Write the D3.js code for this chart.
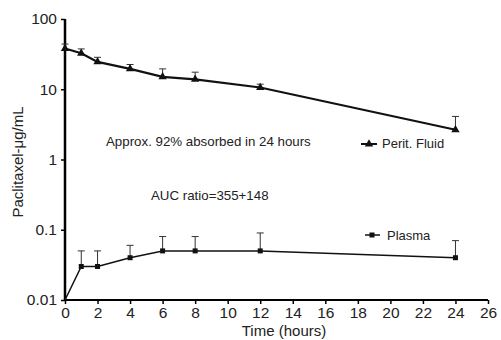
<!DOCTYPE html>
<html>
<head>
<meta charset="utf-8">
<script src="https://cdn.jsdelivr.net/npm/d3@7"></script>
<style>
  body { margin: 0; background: #fff; }
  text { font-family: "Liberation Sans", Arial, sans-serif; fill: #222; }
</style>
</head>
<body>
<svg id="chart" width="501" height="340"></svg>
<script>
// data
const hours = [0, 1, 2, 4, 6, 8, 12, 24];
const peritMean = [38, 32.5, 24.5, 19.5, 15, 13.8, 10.6, 2.65];
const peritUpper = [44, 37.5, 28.5, 22.5, 19.5, 17.5, 11.8, 4.1];
const plasmaHours = [0, 1, 2, 4, 6, 8, 12, 24];
const plasmaMean = [0.01, 0.03, 0.03, 0.04, 0.05, 0.05, 0.05, 0.04];
const plasmaUpper = [null, 0.05, 0.05, 0.06, 0.08, 0.08, 0.09, 0.07];
const xTicks = d3.range(0, 27, 2);
const yTicks = [0.01, 0.1, 1, 10, 100];

const svg = d3.select("#chart");
const x = d3.scaleLinear().domain([0, 26]).range([65, 488]);
const y = d3.scaleLog().domain([0.01, 100]).range([300, 19]);

// axes
svg.append("g")
    .attr("transform", "translate(0,300)")
    .call(d3.axisBottom(x).tickValues(xTicks).tickSize(4).tickPadding(3).tickFormat(d3.format("d")))
    .call(g => g.select(".domain").attr("stroke-width", 2).attr("d", "M65,0H488"))
    .call(g => g.selectAll(".tick line").attr("stroke-width", 1.5))
    .call(g => g.selectAll("text").attr("font-size", 15.5).attr("fill", "#222"));

svg.append("g")
    .attr("transform", "translate(65,0)")
    .call(d3.axisLeft(y).tickValues(yTicks).tickSize(4).tickPadding(4)
        .tickFormat(d => d >= 1 ? d3.format("d")(d) : String(d)))
    .call(g => g.select(".domain").attr("stroke-width", 2.5).attr("d", "M0,19V300"))
    .call(g => g.selectAll(".tick line").attr("stroke-width", 1.5))
    .call(g => g.selectAll("text").attr("font-size", 15.5).attr("fill", "#222"));

svg.append("text")
    .attr("x", 284).attr("y", 336)
    .attr("text-anchor", "middle")
    .attr("font-size", 15)
    .text("Time (hours)");

svg.append("text")
    .attr("transform", "translate(23,162) rotate(-90)")
    .attr("text-anchor", "middle")
    .attr("font-size", 15)
    .text("Paclitaxel-μg/mL");

// error bars (upper only, with cap)
function errorBars(xs, mean, upper) {
    const g = svg.append("g").attr("stroke", "#333").attr("stroke-width", 1);
    xs.forEach((t, i) => {
        if (upper[i] == null) return;
        g.append("line")
            .attr("x1", x(t)).attr("x2", x(t))
            .attr("y1", y(mean[i])).attr("y2", y(upper[i]));
        g.append("line")
            .attr("x1", x(t) - 3.5).attr("x2", x(t) + 3.5)
            .attr("y1", y(upper[i])).attr("y2", y(upper[i]));
    });
}
errorBars(hours, peritMean, peritUpper);
errorBars(plasmaHours, plasmaMean, plasmaUpper);

const line = d3.line().x(d => x(d[0])).y(d => y(d[1]));

svg.append("path")
    .datum(hours.map((t, i) => [t, peritMean[i]]))
    .attr("fill", "none").attr("stroke", "#111").attr("stroke-width", 2.2)
    .attr("d", line);

svg.append("path")
    .datum(plasmaHours.map((t, i) => [t, plasmaMean[i]]))
    .attr("fill", "none").attr("stroke", "#111").attr("stroke-width", 1.5)
    .attr("d", line);

const tri = d3.symbol().type(d3.symbolTriangle).size(30);
svg.append("g").selectAll("path")
    .data(hours.map((t, i) => [t, peritMean[i]]))
    .join("path")
    .attr("transform", d => `translate(${x(d[0])},${y(d[1])})`)
    .attr("d", tri).attr("fill", "#111");

svg.append("g").selectAll("rect")
    .data(plasmaHours.slice(1).map((t, i) => [t, plasmaMean[i + 1]]))
    .join("rect")
    .attr("x", d => x(d[0]) - 2.5).attr("y", d => y(d[1]) - 2.5)
    .attr("width", 5).attr("height", 5).attr("fill", "#111");

// annotations
svg.append("text").attr("x", 106).attr("y", 146).attr("font-size", 13.3)
    .text("Approx. 92% absorbed in 24 hours");
svg.append("text").attr("x", 151).attr("y", 200).attr("font-size", 13.3)
    .text("AUC ratio=355+148");

// legends
svg.append("line").attr("x1", 361).attr("x2", 377).attr("y1", 144).attr("y2", 144)
    .attr("stroke", "#111").attr("stroke-width", 2);
svg.append("path").attr("transform", "translate(369,144)").attr("d", tri).attr("fill", "#111");
svg.append("text").attr("x", 382).attr("y", 148).attr("font-size", 13).text("Perit. Fluid");

svg.append("line").attr("x1", 365).attr("x2", 380).attr("y1", 235).attr("y2", 235)
    .attr("stroke", "#111").attr("stroke-width", 1.5);
svg.append("rect").attr("x", 369.5).attr("y", 232.5).attr("width", 5).attr("height", 5).attr("fill", "#111");
svg.append("text").attr("x", 387).attr("y", 240).attr("font-size", 13).text("Plasma");
</script>
</body>
</html>
